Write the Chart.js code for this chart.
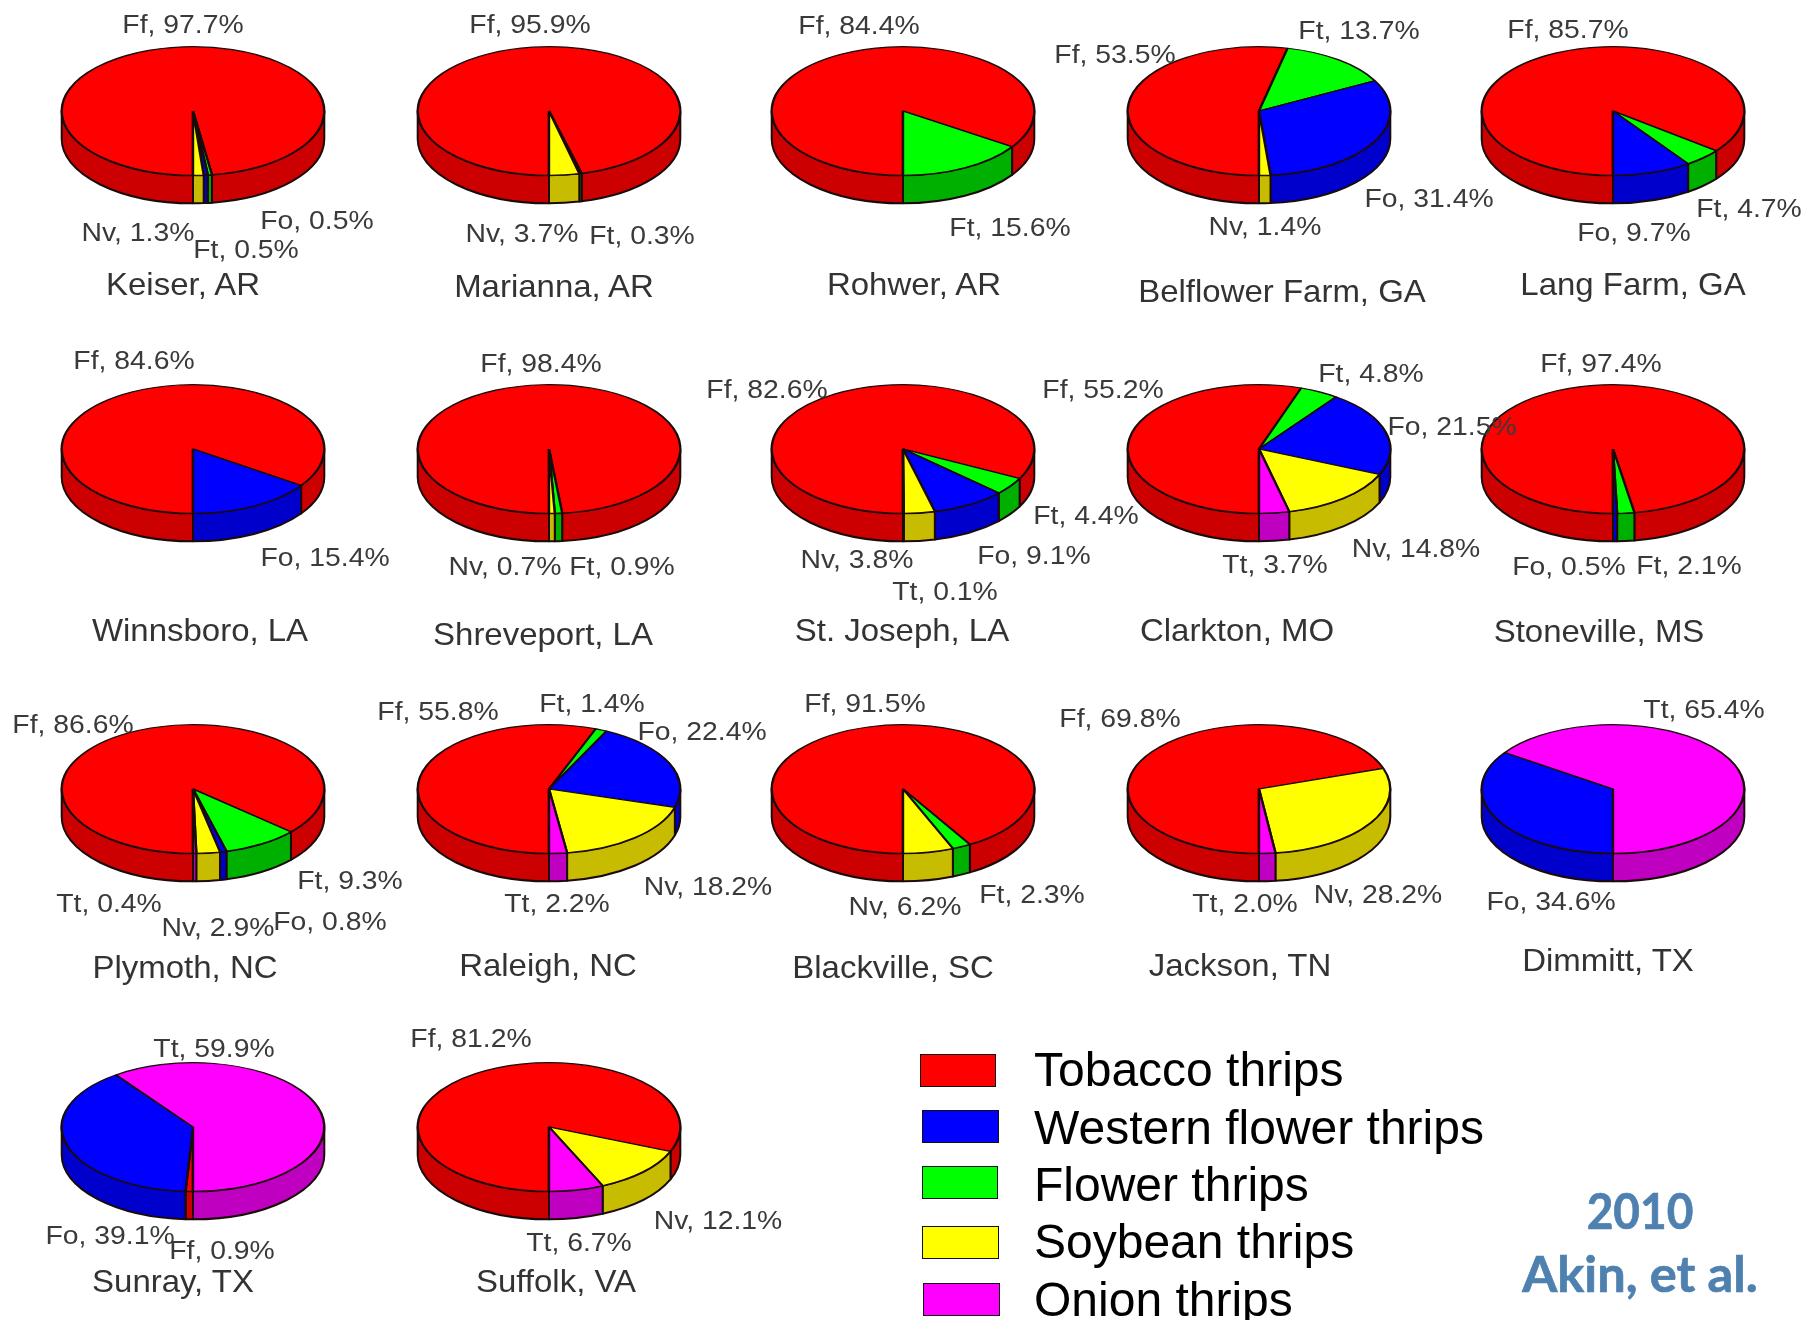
<!DOCTYPE html>
<html>
<head>
<meta charset="utf-8">
<title>Thrips species by site</title>
<script src="https://cdn.jsdelivr.net/npm/chart.js@4"></script>
<style>
  html, body { margin: 0; padding: 0; background: #fff; }
  #page { position: relative; width: 1816px; height: 1320px; overflow: hidden; filter: blur(0.7px); }
  canvas { position: absolute; }
  .label, .title, .legendText, .credit { position: absolute; white-space: nowrap; font-family: "Liberation Sans", Arial, sans-serif; }
  .label { font-size: 26px; color: #3a3a3a; transform: translate(-50%, -50%) scaleX(1.09); }
  .title { font-size: 32px; color: #333; transform: translate(-50%, -50%) scaleX(1.03); }
  .legendText { font-size: 48px; color: #000; transform: translateY(-50%); }
  .swatch { position: absolute; box-sizing: border-box; border: 1.5px solid #111; }
  .credit { font-family: Lato, sans-serif; font-weight: 700; font-size: 50px; color: #4f81b0; -webkit-text-stroke: 0.7px #4f81b0; }
</style>
</head>
<body>
<div id="page"></div>
<script>
// values per site
const sites = ["Keiser, AR", "Marianna, AR", "Rohwer, AR", "Belflower Farm, GA", "Lang Farm, GA",
  "Winnsboro, LA", "Shreveport, LA", "St. Joseph, LA", "Clarkton, MO", "Stoneville, MS",
  "Plymoth, NC", "Raleigh, NC", "Blackville, SC", "Jackson, TN", "Dimmitt, TX",
  "Sunray, TX", "Suffolk, VA"];
const codes = ["Ff", "Ft", "Fo", "Nv", "Tt"];
const Ff = [97.7, 95.9, 84.4, 53.5, 85.7, 84.6, 98.4, 82.6, 55.2, 97.4, 86.6, 55.8, 91.5, 69.8, 0, 0.9, 81.2];
const Ft = [0.5, 0.3, 15.6, 13.7, 4.7, 0, 0.9, 4.4, 4.8, 2.1, 9.3, 1.4, 2.3, 0, 0, 0, 0];
const Fo = [0.5, 0, 0, 31.4, 9.7, 15.4, 0, 9.1, 21.5, 0.5, 0.8, 22.4, 0, 0, 34.6, 39.1, 0];
const Nv = [1.3, 3.7, 0, 1.4, 0, 0, 0.7, 3.8, 14.8, 0, 2.9, 18.2, 6.2, 28.2, 0, 0, 12.1];
const Tt = [0, 0, 0, 0, 0, 0, 0, 0.1, 3.7, 0, 0.4, 2.2, 0, 2.0, 65.4, 59.9, 6.7];
const seriesValues = [Ff, Ft, Fo, Nv, Tt];

const legendNames = ["Tobacco thrips", "Western flower thrips", "Flower thrips", "Soybean thrips", "Onion thrips"];
const creditLines = ["2010", "Akin, et al."];

const topColors = ["#ff0000", "#00ff00", "#0000ff", "#ffff00", "#ff00ff"];
const wallColors = ["#cc0000", "#00b000", "#0000cc", "#c8bc00", "#c000c0"];

// layout, in the 1568 wide coordinates the picture was measured in
const SCALE = 1816 / 1568;
const RADIUS_X = 132.5;
const TILT = 0.49;
const DEPTH = 28;
const CANVAS_SIZE = 280;
const columnX = [167, 474, 780, 1087, 1393];
const rowY = [96, 388, 681, 973];

const labelSpots = [
  { Ff: [158, 21], Fo: [274, 190], Ft: [212, 215], Nv: [119, 200] },
  { Ff: [458, 21], Nv: [451, 201], Ft: [554, 203] },
  { Ff: [742, 22], Ft: [872, 196] },
  { Ff: [963, 47], Ft: [1173, 26], Fo: [1234, 171], Nv: [1092, 195] },
  { Ff: [1354, 25], Fo: [1411, 200], Ft: [1510, 180] },
  { Ff: [116, 311], Fo: [281, 481] },
  { Ff: [467, 313], Nv: [436, 489], Ft: [537, 489] },
  { Ff: [662, 336], Ft: [938, 445], Fo: [893, 479], Nv: [740, 483], Tt: [816, 510] },
  { Ff: [952, 336], Ft: [1184, 322], Fo: [1254, 368], Nv: [1223, 473], Tt: [1101, 487] },
  { Ff: [1382, 313], Fo: [1355, 489], Ft: [1458, 488] },
  { Ff: [63, 625], Ft: [302, 760], Fo: [285, 795], Nv: [188, 800], Tt: [94, 780] },
  { Ff: [378, 614], Ft: [511, 607], Fo: [606, 631], Nv: [611, 765], Tt: [481, 780] },
  { Ff: [747, 607], Ft: [891, 772], Nv: [781, 782] },
  { Ff: [967, 620], Nv: [1190, 772], Tt: [1075, 780] },
  { Tt: [1471, 612], Fo: [1339, 778] },
  { Tt: [185, 905], Fo: [95, 1066], Ff: [192, 1079] },
  { Ff: [407, 896], Nv: [620, 1053], Tt: [500, 1072] }
];
const titleSpots = [[158, 245], [478, 247], [789, 245], [1107, 251], [1410, 245],
  [173, 544], [469, 547], [779, 544], [1068, 544], [1381, 545],
  [160, 835], [473, 833], [771, 835], [1071, 833], [1388, 829],
  [149, 1106], [480, 1106]];
const legendBoxes = [[920, 1054, 76], [922, 1110, 77], [922, 1166, 76], [922, 1226, 77], [923, 1283, 77]];
const legendRows = [1069, 1127, 1184, 1241, 1299];
const creditSpots = [[1640, 1210], [1640, 1273]];
const creditStretch = [0.92, 1.01];

const page = document.getElementById("page");

function addText(className, text, x, y) {
  const el = document.createElement("div");
  el.className = className;
  el.textContent = text;
  el.style.left = x + "px";
  el.style.top = y + "px";
  page.appendChild(el);
  return el;
}

// side wall plus squashed top, the arcs themselves come from the chart
const pie3d = {
  id: "pie3d",
  beforeDatasetsDraw(chart) {
    const ctx = chart.ctx;
    const arcs = chart.getDatasetMeta(0).data;
    ctx.save();
    ctx.lineWidth = 2;
    ctx.strokeStyle = "#1a0a0a";
    ctx.lineJoin = "round";
    arcs.forEach((arc, i) => {
      // only the front half of the disc shows a wall
      const spans = [[Math.PI / 2, Math.PI], [2 * Math.PI, 2.5 * Math.PI]];
      spans.forEach(([from, to]) => {
        const a0 = Math.max(arc.startAngle, from);
        const a1 = Math.min(arc.endAngle, to);
        if (a1 <= a0) return;
        const ry = arc.outerRadius * TILT;
        ctx.beginPath();
        ctx.ellipse(arc.x, arc.y, arc.outerRadius, ry, 0, a0, a1);
        ctx.ellipse(arc.x, arc.y + DEPTH, arc.outerRadius, ry, 0, a1, a0, true);
        ctx.closePath();
        ctx.fillStyle = wallColors[i];
        ctx.fill();
        ctx.stroke();
      });
    });
    ctx.restore();
    const first = arcs[0];
    ctx.save();
    ctx.translate(first.x, first.y);
    ctx.scale(1, TILT);
    ctx.translate(-first.x, -first.y);
  },
  afterDatasetsDraw(chart) {
    chart.ctx.restore();
  }
};

sites.forEach((site, i) => {
  const cx = columnX[i % 5] * SCALE;
  const cy = rowY[Math.floor(i / 5)] * SCALE;
  const canvas = document.createElement("canvas");
  canvas.width = CANVAS_SIZE;
  canvas.height = CANVAS_SIZE;
  canvas.style.left = (cx - CANVAS_SIZE / 2) + "px";
  canvas.style.top = (cy - CANVAS_SIZE / 2) + "px";
  page.appendChild(canvas);

  new Chart(canvas, {
    type: "pie",
    data: {
      labels: codes,
      datasets: [{
        data: seriesValues.map((values) => values[i]),
        backgroundColor: topColors,
        borderColor: "#1a0a0a",
        borderWidth: 2.4
      }]
    },
    options: {
      responsive: false,
      animation: false,
      rotation: 180,
      events: [],
      layout: { padding: CANVAS_SIZE / 2 - RADIUS_X },
      plugins: { legend: { display: false }, tooltip: { enabled: false } }
    },
    plugins: [pie3d]
  });
});

// labels go above every pie, some of them overlap a neighbour
sites.forEach((site, i) => {
  codes.forEach((code, c) => {
    const spot = labelSpots[i][code];
    if (!spot) return;
    const value = seriesValues[c][i].toFixed(1);
    addText("label", `${code}, ${value}%`, spot[0] * SCALE, spot[1] * SCALE);
  });
  addText("title", site, titleSpots[i][0] * SCALE, titleSpots[i][1] * SCALE);
});

legendNames.forEach((name, i) => {
  const box = legendBoxes[i];
  const swatch = document.createElement("div");
  swatch.className = "swatch";
  swatch.style.left = box[0] + "px";
  swatch.style.top = box[1] + "px";
  swatch.style.width = box[2] + "px";
  swatch.style.height = "33px";
  // legend order is not the slice order
  swatch.style.background = topColors[[0, 2, 1, 3, 4][i]];
  page.appendChild(swatch);
  addText("legendText", name, 1034, legendRows[i]);
});

creditLines.forEach((line, i) => {
  const el = addText("credit", line, creditSpots[i][0], creditSpots[i][1]);
  el.style.transform = `translate(-50%, -50%) scaleX(${creditStretch[i]})`;
});
</script>
</body>
</html>
